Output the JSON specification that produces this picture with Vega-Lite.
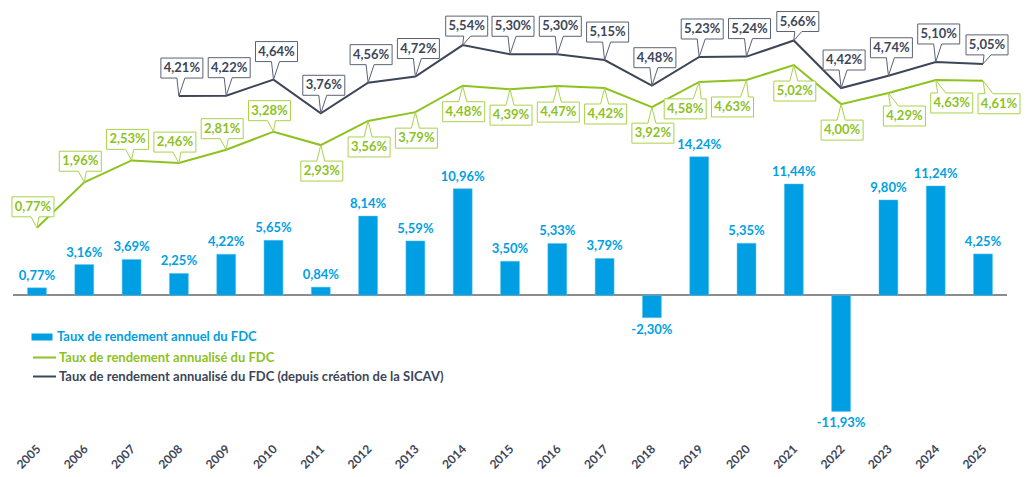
{
  "$schema": "https://vega.github.io/schema/vega-lite/v6.json",
  "width": 994,
  "height": 440,
  "autosize": {"type": "none"},
  "padding": {"left": 13, "top": 0, "right": 22, "bottom": 37},
  "data": {
    "values": [
      {"annee": "2005", "annuel": 0.0077, "annualise": 0.0077, "sicav": null},
      {"annee": "2006", "annuel": 0.0316, "annualise": 0.0196, "sicav": null},
      {"annee": "2007", "annuel": 0.0369, "annualise": 0.0253, "sicav": null},
      {"annee": "2008", "annuel": 0.0225, "annualise": 0.0246, "sicav": 0.0421},
      {"annee": "2009", "annuel": 0.0422, "annualise": 0.0281, "sicav": 0.0422},
      {"annee": "2010", "annuel": 0.0565, "annualise": 0.0328, "sicav": 0.0464},
      {"annee": "2011", "annuel": 0.0084, "annualise": 0.0293, "sicav": 0.0376},
      {"annee": "2012", "annuel": 0.0814, "annualise": 0.0356, "sicav": 0.0456},
      {"annee": "2013", "annuel": 0.0559, "annualise": 0.0379, "sicav": 0.0472},
      {"annee": "2014", "annuel": 0.1096, "annualise": 0.0448, "sicav": 0.0554},
      {"annee": "2015", "annuel": 0.0350, "annualise": 0.0439, "sicav": 0.0530},
      {"annee": "2016", "annuel": 0.0533, "annualise": 0.0447, "sicav": 0.0530},
      {"annee": "2017", "annuel": 0.0379, "annualise": 0.0442, "sicav": 0.0515},
      {"annee": "2018", "annuel": -0.0230, "annualise": 0.0392, "sicav": 0.0448},
      {"annee": "2019", "annuel": 0.1424, "annualise": 0.0458, "sicav": 0.0523},
      {"annee": "2020", "annuel": 0.0535, "annualise": 0.0463, "sicav": 0.0524},
      {"annee": "2021", "annuel": 0.1144, "annualise": 0.0502, "sicav": 0.0566},
      {"annee": "2022", "annuel": -0.1193, "annualise": 0.0400, "sicav": 0.0442},
      {"annee": "2023", "annuel": 0.0980, "annualise": 0.0429, "sicav": 0.0474},
      {"annee": "2024", "annuel": 0.1124, "annualise": 0.0463, "sicav": 0.0510},
      {"annee": "2025", "annuel": 0.0425, "annualise": 0.0461, "sicav": 0.0505}
    ]
  },
  "layer": [
    {
      "layer": [
        {
          "mark": {"type": "rule", "color": "#8C8C8C", "strokeWidth": 1},
          "encoding": {"y": {"datum": 0, "type": "quantitative", "scale": {"domain": [-0.1487, 0.3035], "nice": false, "zero": false}, "axis": null}}
        },
        {
          "mark": {"type": "bar", "stroke": "#5BC0EE", "strokeWidth": 0.5},
          "encoding": {
            "x": {"field": "annee", "type": "ordinal", "scale": {"paddingInner": 0.6, "paddingOuter": 0.307},
              "axis": {"title": null, "labelAngle": -45, "domain": false, "ticks": false, "grid": false, "labelFont": "Lato", "labelFontWeight": "bold", "labelFontSize": 12, "labelColor": "#3D4659", "labelPadding": 3, "labelOffset": -2}},
            "y": {"field": "annuel", "type": "quantitative", "scale": {"domain": [-0.1487, 0.3035], "nice": false, "zero": false}, "axis": null},
            "color": {"datum": "Taux de rendement annuel du FDC", "type": "nominal", "scale": {"range": ["#009FE3"]},
              "legend": {"orient": "none", "legendX": 22, "legendY": 330, "title": null, "symbolType": "M-1.5,-0.5L1.5,-0.5L1.5,0.5L-1.5,0.5Z", "symbolSize": 196, "symbolStrokeWidth": 0, "labelColor": "#009FE3", "labelFont": "Lato", "labelFontSize": 13, "labelFontWeight": "bold", "labelOffset": 8, "labelLimit": 0}}
          }
        },
        {
          "transform": [{"filter": "datum.annuel >= 0"}],
          "mark": {"type": "text", "baseline": "bottom", "dy": -5, "font": "Lato", "fontWeight": "bold", "fontSize": 13, "color": "#009FE3"},
          "encoding": {
            "x": {"field": "annee", "type": "ordinal", "scale": {"paddingInner": 0.6, "paddingOuter": 0.307}},
            "y": {"field": "annuel", "type": "quantitative", "scale": {"domain": [-0.1487, 0.3035], "nice": false, "zero": false}, "axis": null},
            "text": {"field": "annuel", "type": "quantitative", "format": ".2%"}
          }
        },
        {
          "transform": [{"filter": "datum.annuel < 0"}],
          "mark": {"type": "text", "baseline": "top", "dy": 6, "font": "Lato", "fontWeight": "bold", "fontSize": 13, "color": "#009FE3"},
          "encoding": {
            "x": {"field": "annee", "type": "ordinal", "scale": {"paddingInner": 0.6, "paddingOuter": 0.307}},
            "y": {"field": "annuel", "type": "quantitative", "scale": {"domain": [-0.1487, 0.3035], "nice": false, "zero": false}, "axis": null},
            "text": {"field": "annuel", "type": "quantitative", "format": ".2%"}
          }
        }
      ]
    },
    {
      "layer": [
        {
          "mark": {"type": "line", "strokeWidth": 2},
          "encoding": {
            "x": {"field": "annee", "type": "ordinal", "scale": {"paddingInner": 0.6, "paddingOuter": 0.307}},
            "y": {"field": "annualise", "type": "quantitative", "scale": {"domain": [-0.0477, 0.06718], "nice": false, "zero": false}, "axis": null},
            "color": {"datum": "Taux de rendement annualisé du FDC", "type": "nominal", "scale": {"range": ["#8DC21F"]},
              "legend": {"orient": "none", "legendX": 19, "legendY": 345, "title": null, "symbolType": "stroke", "symbolSize": 529, "symbolStrokeWidth": 2, "labelColor": "#8DC21F", "labelFont": "Lato", "labelFontSize": 13, "labelFontWeight": "bold", "labelOffset": 2, "labelLimit": 0}}
          }
        },
        {
          "transform": [{"filter": "datum.sicav != null"}],
          "mark": {"type": "line", "strokeWidth": 2},
          "encoding": {
            "x": {"field": "annee", "type": "ordinal", "scale": {"paddingInner": 0.6, "paddingOuter": 0.307}},
            "y": {"field": "sicav", "type": "quantitative", "scale": {"domain": [-0.0477, 0.06718], "nice": false, "zero": false}, "axis": null},
            "color": {"datum": "Taux de rendement annualisé du FDC (depuis création de la SICAV)", "type": "nominal", "scale": {"range": ["#3D4659"]},
              "legend": {"orient": "none", "legendX": 19, "legendY": 364, "title": null, "symbolType": "stroke", "symbolSize": 529, "symbolStrokeWidth": 2, "labelColor": "#3D4659", "labelFont": "Lato", "labelFontSize": 13, "labelFontWeight": "bold", "labelOffset": 2, "labelLimit": 0}}
          }
        },
        {
          "transform": [{"filter": "toNumber(datum.annee) <= 2010"}],
          "mark": {"type": "point", "shape": "M-25,-31L17,-31L17,-11L2,-11L0,0L-6,-11L-25,-11Z", "size": 4, "filled": true, "fill": "white", "stroke": "#A9D24A", "strokeWidth": 1, "opacity": 1},
          "encoding": {
            "x": {"field": "annee", "type": "ordinal", "scale": {"paddingInner": 0.6, "paddingOuter": 0.307}},
            "y": {"field": "annualise", "type": "quantitative", "scale": {"domain": [-0.0477, 0.06718], "nice": false, "zero": false}, "axis": null}
          }
        },
        {
          "transform": [{"filter": "toNumber(datum.annee) <= 2010"}],
          "mark": {"type": "text", "dx": -4, "dy": -21, "baseline": "middle", "font": "Lato", "fontWeight": "bold", "fontSize": 13, "color": "#8DC21F"},
          "encoding": {
            "x": {"field": "annee", "type": "ordinal", "scale": {"paddingInner": 0.6, "paddingOuter": 0.307}},
            "y": {"field": "annualise", "type": "quantitative", "scale": {"domain": [-0.0477, 0.06718], "nice": false, "zero": false}, "axis": null},
            "text": {"field": "annualise", "type": "quantitative", "format": ".2%"}
          }
        },
        {
          "transform": [{"filter": "toNumber(datum.annee) > 2010 && indexof(['2019', '2020', '2023', '2024', '2025'], datum.annee) < 0"}],
          "mark": {"type": "point", "shape": "M-20,16L-4,16L0,0L4,16L22,16L22,36L-20,36Z", "size": 4, "filled": true, "fill": "white", "stroke": "#A9D24A", "strokeWidth": 1, "opacity": 1},
          "encoding": {
            "x": {"field": "annee", "type": "ordinal", "scale": {"paddingInner": 0.6, "paddingOuter": 0.307}},
            "y": {"field": "annualise", "type": "quantitative", "scale": {"domain": [-0.0477, 0.06718], "nice": false, "zero": false}, "axis": null}
          }
        },
        {
          "transform": [{"filter": "toNumber(datum.annee) > 2010 && indexof(['2019', '2020', '2023', '2024', '2025'], datum.annee) < 0"}],
          "mark": {"type": "text", "dx": 1, "dy": 26, "baseline": "middle", "font": "Lato", "fontWeight": "bold", "fontSize": 13, "color": "#8DC21F"},
          "encoding": {
            "x": {"field": "annee", "type": "ordinal", "scale": {"paddingInner": 0.6, "paddingOuter": 0.307}},
            "y": {"field": "annualise", "type": "quantitative", "scale": {"domain": [-0.0477, 0.06718], "nice": false, "zero": false}, "axis": null},
            "text": {"field": "annualise", "type": "quantitative", "format": ".2%"}
          }
        },
        {
          "transform": [{"filter": "indexof(['2019', '2020'], datum.annee) >= 0"}],
          "mark": {"type": "point", "shape": "M-35,17L-6,17L0,0L2,17L7,17L7,37L-35,37Z", "size": 4, "filled": true, "fill": "white", "stroke": "#A9D24A", "strokeWidth": 1, "opacity": 1},
          "encoding": {
            "x": {"field": "annee", "type": "ordinal", "scale": {"paddingInner": 0.6, "paddingOuter": 0.307}},
            "y": {"field": "annualise", "type": "quantitative", "scale": {"domain": [-0.0477, 0.06718], "nice": false, "zero": false}, "axis": null}
          }
        },
        {
          "transform": [{"filter": "indexof(['2019', '2020'], datum.annee) >= 0"}],
          "mark": {"type": "text", "dx": -14, "dy": 27, "baseline": "middle", "font": "Lato", "fontWeight": "bold", "fontSize": 13, "color": "#8DC21F"},
          "encoding": {
            "x": {"field": "annee", "type": "ordinal", "scale": {"paddingInner": 0.6, "paddingOuter": 0.307}},
            "y": {"field": "annualise", "type": "quantitative", "scale": {"domain": [-0.0477, 0.06718], "nice": false, "zero": false}, "axis": null},
            "text": {"field": "annualise", "type": "quantitative", "format": ".2%"}
          }
        },
        {
          "transform": [{"filter": "indexof(['2023', '2024', '2025'], datum.annee) >= 0"}],
          "mark": {"type": "point", "shape": "M-5,13L2,13L0,0L10,13L37,13L37,33L-5,33Z", "size": 4, "filled": true, "fill": "white", "stroke": "#A9D24A", "strokeWidth": 1, "opacity": 1},
          "encoding": {
            "x": {"field": "annee", "type": "ordinal", "scale": {"paddingInner": 0.6, "paddingOuter": 0.307}},
            "y": {"field": "annualise", "type": "quantitative", "scale": {"domain": [-0.0477, 0.06718], "nice": false, "zero": false}, "axis": null}
          }
        },
        {
          "transform": [{"filter": "indexof(['2023', '2024', '2025'], datum.annee) >= 0"}],
          "mark": {"type": "text", "dx": 16, "dy": 23, "baseline": "middle", "font": "Lato", "fontWeight": "bold", "fontSize": 13, "color": "#8DC21F"},
          "encoding": {
            "x": {"field": "annee", "type": "ordinal", "scale": {"paddingInner": 0.6, "paddingOuter": 0.307}},
            "y": {"field": "annualise", "type": "quantitative", "scale": {"domain": [-0.0477, 0.06718], "nice": false, "zero": false}, "axis": null},
            "text": {"field": "annualise", "type": "quantitative", "format": ".2%"}
          }
        },
        {
          "transform": [{"filter": "datum.sicav != null && indexof(['2014', '2021', '2025'], datum.annee) < 0"}],
          "mark": {"type": "point", "shape": "M-18,-38L24,-38L24,-18L6,-18L0,0L-2,-18L-18,-18Z", "size": 4, "filled": true, "fill": "white", "stroke": "#5A6275", "strokeWidth": 1, "opacity": 1},
          "encoding": {
            "x": {"field": "annee", "type": "ordinal", "scale": {"paddingInner": 0.6, "paddingOuter": 0.307}},
            "y": {"field": "sicav", "type": "quantitative", "scale": {"domain": [-0.0477, 0.06718], "nice": false, "zero": false}, "axis": null}
          }
        },
        {
          "transform": [{"filter": "datum.sicav != null && indexof(['2014', '2021', '2025'], datum.annee) < 0"}],
          "mark": {"type": "text", "dx": 3, "dy": -28, "baseline": "middle", "font": "Lato", "fontWeight": "bold", "fontSize": 13, "color": "#3D4659"},
          "encoding": {
            "x": {"field": "annee", "type": "ordinal", "scale": {"paddingInner": 0.6, "paddingOuter": 0.307}},
            "y": {"field": "sicav", "type": "quantitative", "scale": {"domain": [-0.0477, 0.06718], "nice": false, "zero": false}, "axis": null},
            "text": {"field": "sicav", "type": "quantitative", "format": ".2%"}
          }
        },
        {
          "transform": [{"filter": "indexof(['2014', '2021', '2025'], datum.annee) >= 0"}],
          "mark": {"type": "point", "shape": "M-17,-29L25,-29L25,-9L8,-9L0,0L1,-9L-17,-9Z", "size": 4, "filled": true, "fill": "white", "stroke": "#5A6275", "strokeWidth": 1, "opacity": 1},
          "encoding": {
            "x": {"field": "annee", "type": "ordinal", "scale": {"paddingInner": 0.6, "paddingOuter": 0.307}},
            "y": {"field": "sicav", "type": "quantitative", "scale": {"domain": [-0.0477, 0.06718], "nice": false, "zero": false}, "axis": null}
          }
        },
        {
          "transform": [{"filter": "indexof(['2014', '2021', '2025'], datum.annee) >= 0"}],
          "mark": {"type": "text", "dx": 4, "dy": -19, "baseline": "middle", "font": "Lato", "fontWeight": "bold", "fontSize": 13, "color": "#3D4659"},
          "encoding": {
            "x": {"field": "annee", "type": "ordinal", "scale": {"paddingInner": 0.6, "paddingOuter": 0.307}},
            "y": {"field": "sicav", "type": "quantitative", "scale": {"domain": [-0.0477, 0.06718], "nice": false, "zero": false}, "axis": null},
            "text": {"field": "sicav", "type": "quantitative", "format": ".2%"}
          }
        }
      ],
      "resolve": {"scale": {"color": "independent"}, "legend": {"color": "independent"}}
    }
  ],
  "resolve": {"scale": {"y": "independent", "color": "independent"}, "legend": {"color": "independent"}},
  "config": {
    "locale": {"number": {"decimal": ",", "thousands": " ", "grouping": [3], "currency": ["", " €"], "minus": "-"}},
    "view": {"stroke": null},
    "font": "Lato"
  }
}
